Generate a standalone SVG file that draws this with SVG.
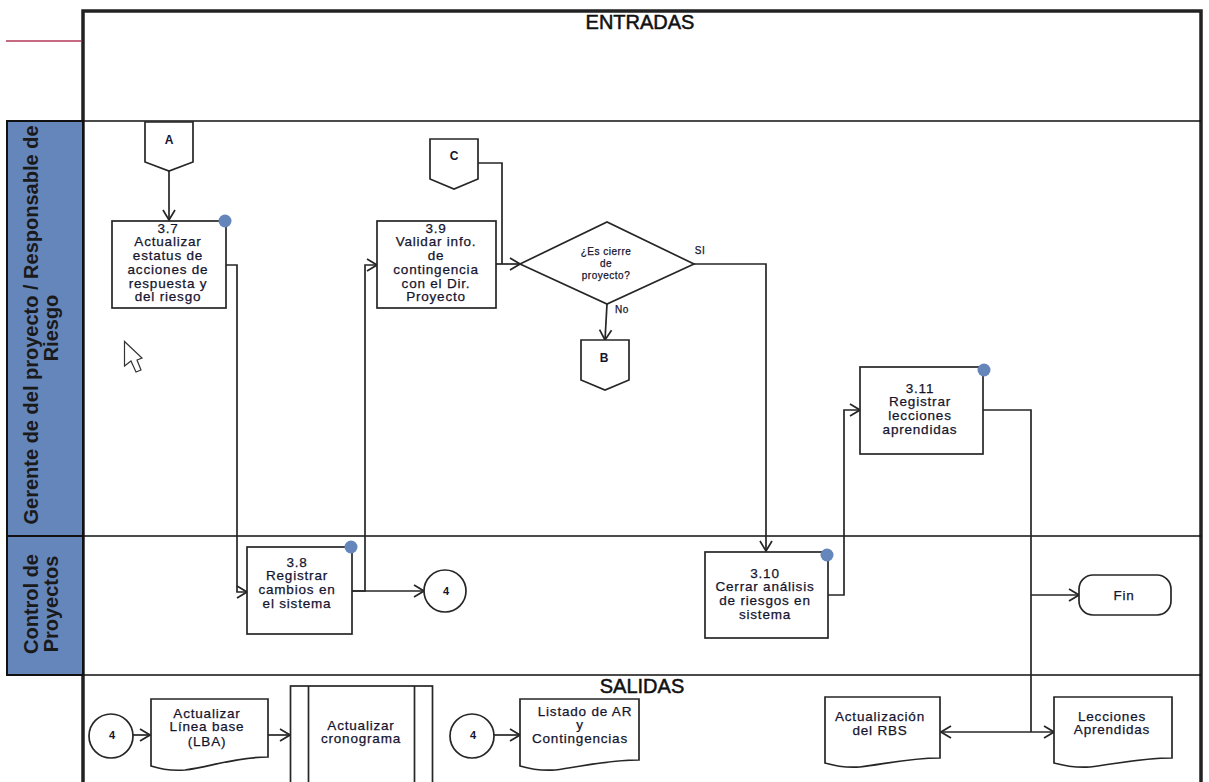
<svg xmlns="http://www.w3.org/2000/svg" width="1209" height="782" viewBox="0 0 1209 782">
<style>
text{font-family:"Liberation Sans",Arial,sans-serif;fill:#14142e;text-anchor:middle}
.t{font-size:13.5px;letter-spacing:.8px;stroke:#14142e;stroke-width:.25px}
.n{fill:#fff;stroke:#262626;stroke-width:1.7}
.c{fill:none;stroke:#262626;stroke-width:1.7}
.dot{fill:#6586bb}
.h{font-size:20px;font-weight:bold;fill:#1a1a1a}
.lane{fill:#6586bb;stroke:#111;stroke-width:2}
.title{font-size:20px;fill:#111;stroke:#111;stroke-width:.5px}
.s{font-size:10px;letter-spacing:.5px;stroke:#14142e;stroke-width:.25px}
.d{font-size:11px;font-weight:bold}
.m{font-size:12px;font-weight:bold}
</style>
<defs>
<marker id="a" markerUnits="userSpaceOnUse" markerWidth="14" markerHeight="14" refX="13" refY="7" orient="auto"><path d="M3 1L13 7L3 13" fill="none" stroke="#262626" stroke-width="1.7"/></marker>
<marker id="b" markerUnits="userSpaceOnUse" markerWidth="14" markerHeight="14" refX="1" refY="7" orient="auto"><path d="M11 1L1 7L11 13" fill="none" stroke="#262626" stroke-width="1.7"/></marker>
</defs>
<rect width="1209" height="782" fill="#fff"/>
<g id="frame">
<path d="M6 41H81" stroke="#b5375a" stroke-width="1.3" fill="none"/>
<path d="M83 782V11H1201V782" fill="none" stroke="#222" stroke-width="3.500"/>
<path d="M83 121H1201M83 536H1201M83 675H1201" stroke="#111" stroke-width="1.500" fill="none"/>
<rect class="lane" x="7" y="121" width="76" height="415"/>
<rect class="lane" x="7" y="536" width="76" height="139"/>
<text class="title" x="640" y="29">ENTRADAS</text>
<text class="title" x="642" y="693">SALIDAS</text>
<text class="h" transform="translate(38 325) rotate(-90)">Gerente de del proyecto / Responsable de</text>
<text class="h" transform="translate(58 328) rotate(-90)">Riesgo</text>
<text class="h" transform="translate(38 604) rotate(-90)">Control de</text>
<text class="h" transform="translate(58 604) rotate(-90)">Proyectos</text>
<path d="M124.500 341.500V366L131 361L136 372L141 370L137 360L142 358Z" fill="#fff" stroke="#333" stroke-width="1.200"/>
</g>
<g id="connectors">
<path class="c" d="M169 171V220" marker-end="url(#a)"/>
<path class="c" d="M226 265H237V592H247" marker-end="url(#a)"/>
<path class="c" d="M352 591H365V265H377" marker-end="url(#a)"/>
<path class="c" d="M352 591H424" marker-end="url(#a)"/>
<path class="c" d="M478 163H502V264"/>
<path class="c" d="M496 264H520" marker-end="url(#a)"/>
<path class="c" d="M694 264H766V551" marker-end="url(#a)"/>
<path class="c" d="M607 304L605 340" marker-end="url(#a)"/>
<path class="c" d="M828 595H844V410H860" marker-end="url(#a)"/>
<path class="c" d="M983 410H1031V732"/>
<path class="c" d="M1031 595H1079" marker-end="url(#a)"/>
<path class="c" d="M941 732H1054" marker-start="url(#b)" marker-end="url(#a)"/>
<path class="c" d="M133 735H150" marker-end="url(#a)"/>
<path class="c" d="M268 735H290" marker-end="url(#a)"/>
<path class="c" d="M493 735H520" marker-end="url(#a)"/>
</g>
<g id="nodeA"><path class="n" d="M145 122H193V162L169 171L145 162Z"/><text class="m" x="169" y="144">A</text></g>
<g id="nodeC"><path class="n" d="M430 139H478V179L454 189L430 179Z"/><text class="m" x="454" y="160">C</text></g>
<g id="nodeB"><path class="n" d="M581 340H629V380L605 390L581 380Z"/><text class="m" x="604" y="362">B</text></g>
<g id="n37"><rect class="n" x="112" y="221" width="114" height="87"/><circle class="dot" cx="225" cy="221" r="6.500"/>
<text class="t" x="168" y="233">3.7</text><text class="t" x="168" y="246">Actualizar</text><text class="t" x="168" y="260">estatus de</text><text class="t" x="168" y="274">acciones de</text><text class="t" x="168" y="288">respuesta y</text><text class="t" x="168" y="301">del riesgo</text></g>
<g id="n38"><rect class="n" x="247" y="547" width="105" height="87"/><circle class="dot" cx="351" cy="547" r="6.500"/>
<text class="t" x="297" y="567">3.8</text><text class="t" x="297" y="580">Registrar</text><text class="t" x="297" y="594">cambios en</text><text class="t" x="297" y="608">el sistema</text></g>
<g id="n39"><rect class="n" x="377" y="221" width="119" height="87"/>
<text class="t" x="436" y="233">3.9</text><text class="t" x="436" y="246">Validar info.</text><text class="t" x="436" y="260">de</text><text class="t" x="436" y="274">contingencia</text><text class="t" x="436" y="288">con el Dir.</text><text class="t" x="436" y="301">Proyecto</text></g>
<g id="decision"><path class="n" d="M520 264L607 222L694 264L607 304Z"/>
<text class="s" x="606" y="255">¿Es cierre</text><text class="s" x="606" y="267">de</text><text class="s" x="606" y="279">proyecto?</text>
<text class="s" x="700" y="254">SI</text><text class="s" x="622" y="313">No</text></g>
<g id="n310"><rect class="n" x="705" y="552" width="123" height="86"/><circle class="dot" cx="827" cy="555" r="6.500"/>
<text class="t" x="765" y="578">3.10</text><text class="t" x="765" y="591">Cerrar análisis</text><text class="t" x="765" y="605">de riesgos en</text><text class="t" x="765" y="619">sistema</text></g>
<g id="n311"><rect class="n" x="860" y="367" width="123" height="87"/><circle class="dot" cx="984" cy="370" r="6.500"/>
<text class="t" x="920" y="393">3.11</text><text class="t" x="920" y="406">Registrar</text><text class="t" x="920" y="420">lecciones</text><text class="t" x="920" y="434">aprendidas</text></g>
<g id="c1"><circle class="n" cx="445" cy="591" r="21"/><text class="d" x="446" y="595">4</text></g>
<g id="fin"><rect class="n" x="1079" y="575" width="92" height="40" rx="14"/><text class="t" x="1124" y="600">Fin</text></g>
<g id="c2"><circle class="n" cx="111" cy="736" r="22"/><text class="d" x="112" y="739">4</text></g>
<g id="lba"><path class="n" d="M151 699H268V757C235 757 210 767 185 770C170 771 160 769 151 766Z"/>
<text class="t" x="207" y="718">Actualizar</text><text class="t" x="207" y="731">Línea base</text><text class="t" x="207" y="746">(LBA)</text></g>
<g id="crono"><rect class="n" x="290.500" y="686" width="142" height="110"/><path class="c" d="M308.500 686V782M414.500 686V782"/>
<text class="t" x="361" y="730">Actualizar</text><text class="t" x="361" y="743">cronograma</text></g>
<g id="c3"><circle class="n" cx="472" cy="736" r="22"/><text class="d" x="473" y="739">4</text></g>
<g id="listado"><path class="n" d="M520 699H639V760C605 760 580 767 555 770C540 771 530 769 520 766Z"/>
<text class="t" x="585" y="716">Listado de AR</text><text class="t" x="580" y="729">y</text><text class="t" x="580" y="743">Contingencias</text></g>
<g id="rbs"><path class="n" d="M825 697H940V758C908 758 885 764 860 767C845 768 835 766 825 763Z"/>
<text class="t" x="880" y="721">Actualización</text><text class="t" x="880" y="735">del RBS</text></g>
<g id="lecciones"><path class="n" d="M1054 697H1172V758C1140 758 1115 764 1090 767C1075 768 1065 766 1054 763Z"/>
<text class="t" x="1112" y="721">Lecciones</text><text class="t" x="1112" y="734">Aprendidas</text></g>
</svg>
